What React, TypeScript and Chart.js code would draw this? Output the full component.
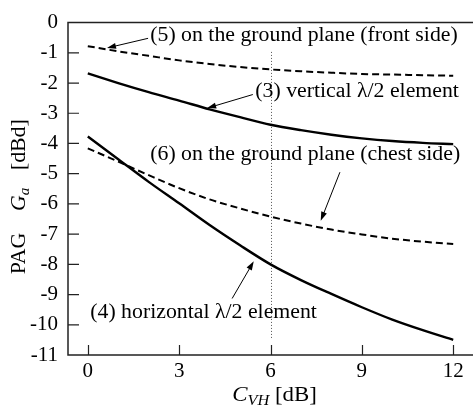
import { useEffect, useRef } from 'react';
import { Chart, registerables } from 'chart.js';

Chart.register(...registerables);

// ---- Data ----
const X_VALUES = [0, 1, 2, 3, 4, 5, 6, 7, 8, 9, 10, 11, 12];
const X_TICKS = [0, 3, 6, 9, 12];
const Y_TICKS = [0, -1, -2, -3, -4, -5, -6, -7, -8, -9, -10, -11];

const SERIES_5_FRONT = [-0.78, -0.95, -1.1, -1.25, -1.37, -1.47, -1.55, -1.61, -1.66, -1.7, -1.72, -1.74, -1.76];
const SERIES_3_VERTICAL = [-1.68, -2.0, -2.3, -2.58, -2.87, -3.13, -3.38, -3.56, -3.71, -3.83, -3.92, -3.98, -4.02];
const SERIES_6_CHEST = [-4.16, -4.6, -5.05, -5.48, -5.85, -6.15, -6.42, -6.65, -6.85, -7.01, -7.15, -7.25, -7.33];
const SERIES_4_HORIZONTAL = [-3.77, -4.52, -5.27, -5.98, -6.7, -7.37, -8.0, -8.52, -8.98, -9.42, -9.83, -10.18, -10.5];

const SERIES_NAMES = [
  '(5) on the ground plane (front side)',
  '(3) vertical λ/2 element',
  '(6) on the ground plane (chest side)',
  '(4) horizontal λ/2 element',
];

const MARKER_X = 6;
const MARKER_Y_RANGE = [-0.97, -10.45];

// annotation placement (data units)
const ANNOTATIONS = [
  { text: SERIES_NAMES[0], tx: 2.05, ty: -0.45, from: [1.98, -0.52], to: [0.63, -0.84] },
  { text: SERIES_NAMES[1], tx: 5.5, ty: -2.28, from: [5.42, -2.38], to: [3.92, -2.83] },
  { text: SERIES_NAMES[2], tx: 2.05, ty: -4.37, from: [8.28, -4.95], to: [7.65, -6.56] },
  { text: SERIES_NAMES[3], tx: 0.08, ty: -9.61, from: [4.74, -9.13], to: [5.45, -7.9] },
];

const FONT = 'Liberation Serif';
const STRETCH = 1.09;

const toPoints = (ys: number[]) => X_VALUES.map((x, i) => ({ x, y: ys[i] }));

const overlayPlugin = {
  id: 'overlay',
  beforeDatasetsDraw(chart: any) {
    const { ctx, scales } = chart;
    const xs = scales.x, ys = scales.y;
    ctx.save();
    ctx.strokeStyle = '#555';
    ctx.lineWidth = 1;
    ctx.setLineDash([1, 2]);
    const px = Math.round(xs.getPixelForValue(MARKER_X)) + 0.5;
    ctx.beginPath();
    ctx.moveTo(px, ys.getPixelForValue(MARKER_Y_RANGE[0]));
    ctx.lineTo(px, ys.getPixelForValue(MARKER_Y_RANGE[1]));
    ctx.stroke();
    ctx.restore();
  },
  afterDraw(chart: any) {
    const { ctx, scales, chartArea } = chart;
    const xs = scales.x, ys = scales.y;
    const { left, right, top, bottom } = chartArea;
    ctx.save();
    // frame: left, top, bottom
    ctx.strokeStyle = '#222';
    ctx.lineWidth = 1.5;
    ctx.setLineDash([]);
    ctx.beginPath();
    ctx.moveTo(right, top);
    ctx.lineTo(left, top);
    ctx.lineTo(left, bottom);
    ctx.lineTo(right, bottom);
    ctx.stroke();
    // inward ticks
    ctx.lineWidth = 1.2;
    ctx.beginPath();
    Y_TICKS.forEach((v) => {
      if (v === 0 || v === -11) return;
      const py = ys.getPixelForValue(v);
      ctx.moveTo(left, py);
      ctx.lineTo(left + 11, py);
    });
    X_TICKS.forEach((v) => {
      const p = Math.round(xs.getPixelForValue(v)) + 0.5;
      ctx.moveTo(p, bottom);
      ctx.lineTo(p, bottom - 10);
    });
    ctx.stroke();

    // annotations
    ctx.fillStyle = '#000';
    ctx.strokeStyle = '#000';
    ctx.font = `20px "${FONT}"`;
    ctx.textBaseline = 'middle';
    ctx.textAlign = 'left';
    ANNOTATIONS.forEach((a) => {
      ctx.save();
      ctx.translate(xs.getPixelForValue(a.tx), ys.getPixelForValue(a.ty));
      ctx.scale(STRETCH, 1);
      ctx.fillText(a.text, 0, 0);
      ctx.restore();
      const x0 = xs.getPixelForValue(a.from[0]);
      const y0 = ys.getPixelForValue(a.from[1]);
      const x1 = xs.getPixelForValue(a.to[0]);
      const y1 = ys.getPixelForValue(a.to[1]);
      const ang = Math.atan2(y1 - y0, x1 - x0);
      const hl = 9, hw = 3;
      ctx.lineWidth = 1;
      ctx.beginPath();
      ctx.moveTo(x0, y0);
      ctx.lineTo(x1 - Math.cos(ang) * hl * 0.8, y1 - Math.sin(ang) * hl * 0.8);
      ctx.stroke();
      ctx.beginPath();
      ctx.moveTo(x1, y1);
      ctx.lineTo(x1 - Math.cos(ang) * hl - Math.sin(ang) * hw, y1 - Math.sin(ang) * hl + Math.cos(ang) * hw);
      ctx.lineTo(x1 - Math.cos(ang) * hl + Math.sin(ang) * hw, y1 - Math.sin(ang) * hl - Math.cos(ang) * hw);
      ctx.closePath();
      ctx.fill();
    });

    // x axis title: C_VH [dB]
    {
      const big = `italic 21px "${FONT}"`;
      const sub = `italic 15px "${FONT}"`;
      const norm = `21px "${FONT}"`;
      ctx.textBaseline = 'alphabetic';
      ctx.font = big; const wC = ctx.measureText('C').width;
      ctx.font = sub; const wS = ctx.measureText('VH').width;
      ctx.font = norm; const wR = ctx.measureText(' [dB]').width;
      const total = (wC + wS + wR) * STRETCH;
      ctx.save();
      ctx.translate((left + right) / 2 - total / 2 + 4, 401);
      ctx.scale(STRETCH, 1);
      let x = 0;
      ctx.font = big; ctx.fillText('C', x, 0); x += wC;
      ctx.font = sub; ctx.fillText('VH', x, 4); x += wS;
      ctx.font = norm; ctx.fillText(' [dB]', x, 0);
      ctx.restore();
    }
    // y axis title: PAG  G_a  [dBd]
    {
      const norm = `20px "${FONT}"`;
      const big = `italic 20px "${FONT}"`;
      const sub = `italic 14px "${FONT}"`;
      ctx.textBaseline = 'alphabetic';
      ctx.font = norm; const wP = ctx.measureText('PAG').width; const wD = ctx.measureText('[dBd]').width;
      ctx.font = big; const wG = ctx.measureText('G').width;
      ctx.font = sub; const wA = ctx.measureText('a').width;
      const g1 = 20, g2 = 16;
      const total = (wP + g1 + wG + wA + g2 + wD) * STRETCH;
      ctx.save();
      ctx.translate(25, (top + bottom) / 2 + 8);
      ctx.rotate(-Math.PI / 2);
      ctx.translate(-total / 2, 0);
      ctx.scale(STRETCH, 1);
      let x = 0;
      ctx.font = norm; ctx.fillText('PAG', x, 0); x += wP + g1;
      ctx.font = big; ctx.fillText('G', x, 0); x += wG;
      ctx.font = sub; ctx.fillText('a', x, 4); x += wA + g2;
      ctx.font = norm; ctx.fillText('[dBd]', x, 0);
      ctx.restore();
    }
    ctx.restore();
  },
};

export default function App() {
  const ref = useRef<HTMLCanvasElement | null>(null);
  useEffect(() => {
    document.body.style.margin = '0';
    const canvas = ref.current;
    if (!canvas) return;
    const solid = { borderColor: '#000', borderWidth: 2.4, pointRadius: 0, cubicInterpolationMode: 'monotone' as const, fill: false };
    const dashed = { ...solid, borderWidth: 2, borderDash: [7, 4] };
    const chart = new Chart(canvas, {
      type: 'line',
      data: {
        datasets: [
          { label: SERIES_NAMES[0], data: toPoints(SERIES_5_FRONT), ...dashed },
          { label: SERIES_NAMES[1], data: toPoints(SERIES_3_VERTICAL), ...solid },
          { label: SERIES_NAMES[2], data: toPoints(SERIES_6_CHEST), ...dashed },
          { label: SERIES_NAMES[3], data: toPoints(SERIES_4_HORIZONTAL), ...solid },
        ],
      },
      options: {
        animation: false,
        responsive: false,
        devicePixelRatio: 1,
        layout: { padding: { top: 13, right: 2, left: 0, bottom: 0 } },
        plugins: { legend: { display: false }, tooltip: { enabled: false } },
        scales: {
          x: {
            type: 'linear',
            min: -0.65,
            max: 12.65,
            border: { display: false },
            grid: { display: false, drawTicks: false },
            afterBuildTicks: (s: any) => { s.ticks = X_TICKS.map((v) => ({ value: v })); },
            afterFit: (s: any) => { s.height = 56; },
            ticks: { color: '#000', font: { family: FONT, size: 21 }, padding: 4, maxRotation: 0, autoSkip: false, callback: (v: any) => String(v) },
          },
          y: {
            type: 'linear',
            min: -11,
            max: 0,
            border: { display: false },
            grid: { display: false, drawTicks: false },
            afterBuildTicks: (s: any) => { s.ticks = Y_TICKS.map((v) => ({ value: v })); },
            afterFit: (s: any) => { s.width = 68; },
            ticks: { color: '#000', font: { family: FONT, size: 21 }, padding: 10, autoSkip: false, callback: (v: any) => String(v) },
          },
        },
      },
      plugins: [overlayPlugin],
    });
    return () => chart.destroy();
  }, []);
  return <canvas ref={ref} width={475} height={411} style={{ display: 'block' }} />;
}
